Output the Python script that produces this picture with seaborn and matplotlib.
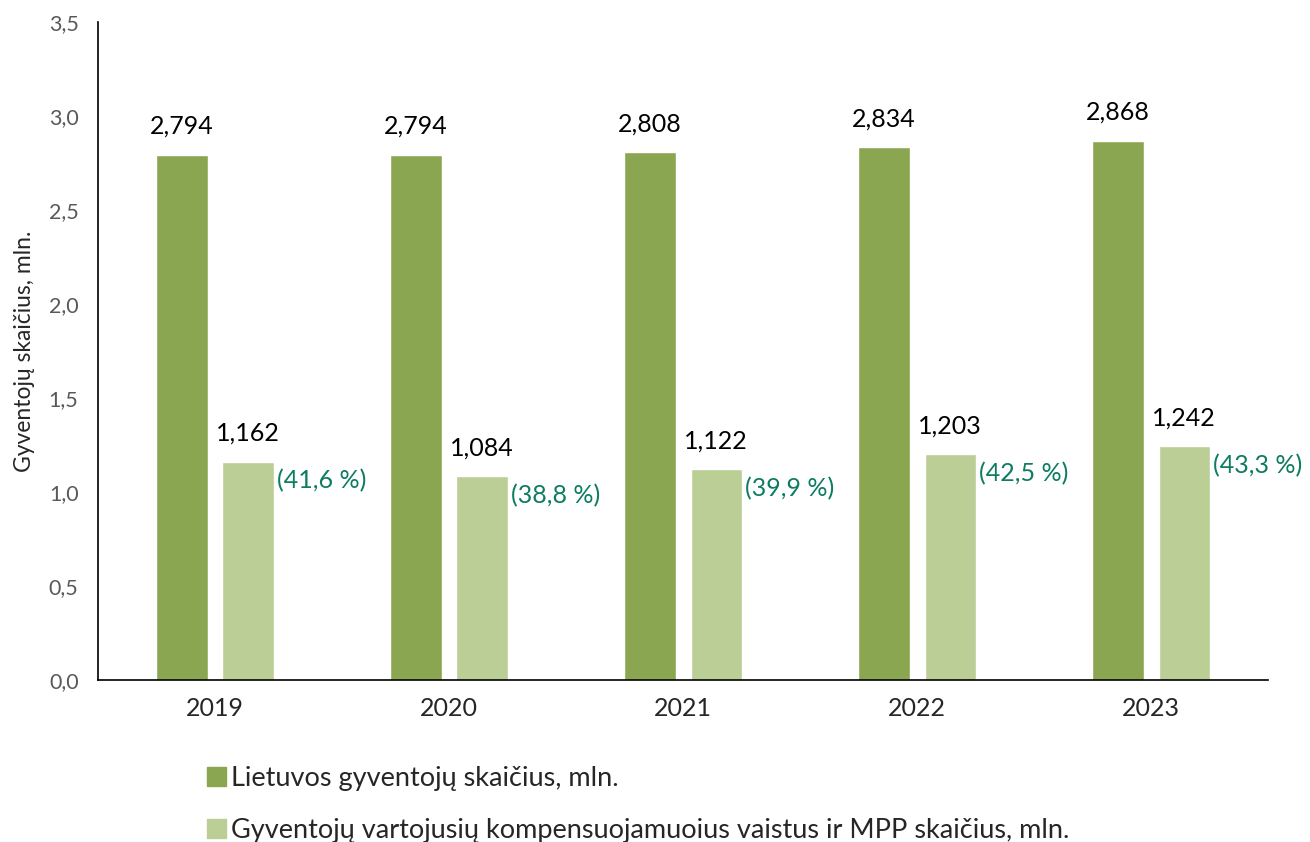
import pandas as pd
import numpy as np
import matplotlib.pyplot as plt
import seaborn as sns

# values
years = ["2019", "2020", "2021", "2022", "2023"]
population = [2.794, 2.794, 2.808, 2.834, 2.868]
users = [1.162, 1.084, 1.122, 1.203, 1.242]
shares = ["41,6", "38,8", "39,9", "42,5", "43,3"]

series_pop = "Lietuvos gyventojų skaičius, mln."
series_users = "Gyventojų vartojusių kompensuojamuoius vaistus ir MPP skaičius, mln."

dark_green = "#8BA650"
light_green = "#BBCE96"
pct_color = "#0E7C61"


def fmt(v):
    return f"{v:.3f}".replace(".", ",")


def main():
    sns.set_style("white")
    plt.rcParams['font.family'] = ['Lato', 'DejaVu Sans']

    df = pd.DataFrame({
        "year": years * 2,
        "value": population + users,
        "series": [series_pop] * len(years) + [series_users] * len(years),
    })

    fig = plt.figure(figsize=(13.1, 8.42), dpi=100)
    ax = fig.add_axes([0.0748, 0.1924, 0.8932, 0.7816])

    sns.barplot(data=df, x="year", y="value", hue="series",
                palette=[dark_green, light_green], saturation=1,
                width=0.568, gap=0.225, legend=False, ax=ax)

    ax.set_xlim(-0.5, 4.5)
    ax.set_ylim(0, 3.5)
    ticks = np.arange(0, 3.51, 0.5)
    ax.set_yticks(ticks)
    ax.set_yticklabels([f"{t:.1f}".replace(".", ",") for t in ticks],
                       color="#595959", fontsize=15.5)
    ax.tick_params(axis="x", labelsize=18, pad=12, length=0)
    ax.tick_params(axis="y", length=0, pad=14)
    ax.set_xlabel("")
    ax.set_ylabel("Gyventojų skaičius, mln.", fontsize=16.5, labelpad=10)

    for side in ["top", "right"]:
        ax.spines[side].set_visible(False)
    for side in ["left", "bottom"]:
        ax.spines[side].set_color("black")
        ax.spines[side].set_linewidth(1.2)

    # value labels
    for i, bars in enumerate(ax.containers):
        for j, bar in enumerate(bars):
            cx = bar.get_x() + bar.get_width() / 2
            h = bar.get_height()
            ax.annotate(fmt(h), (cx, h), xytext=(0, 12), textcoords="offset points",
                        ha="center", va="bottom", fontsize=18, color="black")
            if i == 1:
                ax.annotate(f"({shares[j]} %)", (bar.get_x() + bar.get_width(), h),
                            xytext=(2, -14), textcoords="offset points",
                            ha="left", va="center", fontsize=18, color=pct_color)

    # legend below the chart
    handles = [plt.Rectangle((0, 0), 1, 1, color=dark_green),
               plt.Rectangle((0, 0), 1, 1, color=light_green)]
    fig.legend(handles, [series_pop, series_users], loc="upper left",
               bbox_to_anchor=(0.158, 0.09), frameon=False, fontsize=19.5,
               handlelength=0.7, handleheight=0.7, handletextpad=0.2,
               labelspacing=1.0, borderaxespad=0, borderpad=0)

    fig.savefig("out.png", dpi=100)


if __name__ == "__main__":
    main()
